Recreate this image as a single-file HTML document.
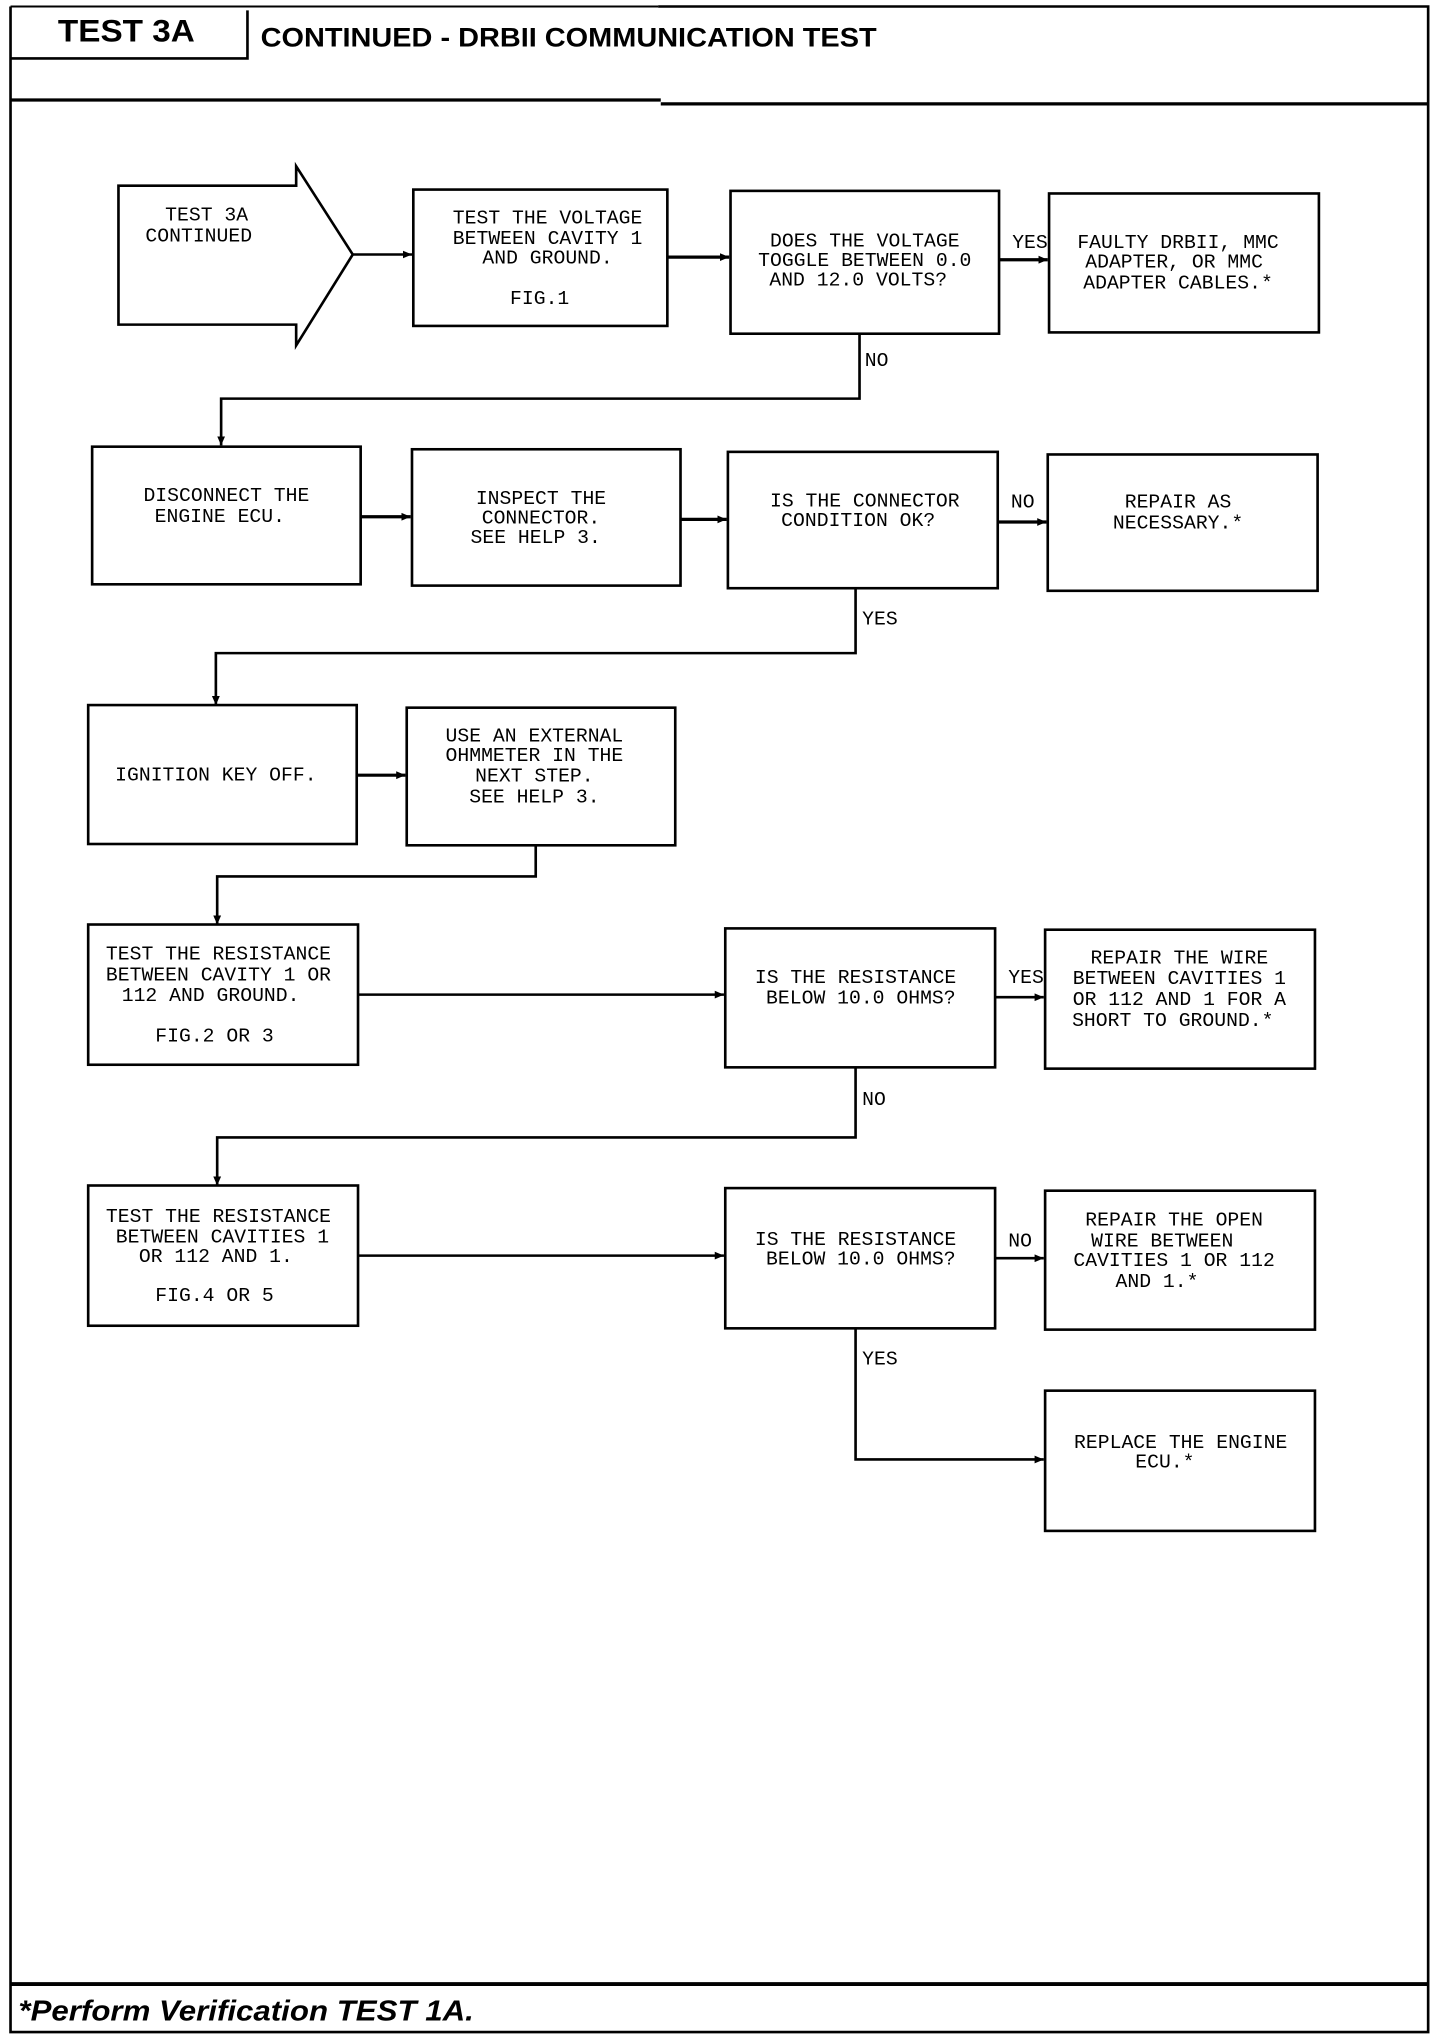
<!DOCTYPE html>
<html><head><meta charset="utf-8"><style>
html,body{margin:0;padding:0;background:#fff;}
svg{display:block;}
.t{font-family:"Liberation Mono",monospace;font-size:15px;fill:#000;text-anchor:middle;}
.l{font-family:"Liberation Mono",monospace;font-size:15px;fill:#000;}
</style></head><body>
<svg width="1440" height="2036" viewBox="0 0 1094 1568" preserveAspectRatio="none" xmlns="http://www.w3.org/2000/svg">
<defs><marker id="a" markerWidth="8" markerHeight="8" refX="7" refY="4" orient="auto" markerUnits="userSpaceOnUse"><path d="M0,1 L7,4 L0,7 Z" fill="#000"/></marker></defs>
<g fill="none" stroke="#000" stroke-width="2">
<path d="M8,5 V1565 H1085 V5 H500"/>
<path d="M8,5 H500" stroke-width="1.5"/>
<path d="M8,45 H188 V8"/>
<path d="M8,77 H502" stroke-width="2.5"/>
<path d="M502,80 H1085" stroke-width="2.5"/>
<path d="M8,1528 H1085" stroke-width="3"/>
<path d="M225,143 H90 V250 H225 V266 L268,196 L225,128 Z"/>
<rect x="314" y="146" width="193" height="105"/>
<rect x="555" y="147" width="204" height="110"/>
<rect x="797" y="149" width="205" height="107"/>
<path d="M268,196 H313" marker-end="url(#a)"/>
<path d="M507,198 H554" marker-end="url(#a)" stroke-width="2.5"/>
<path d="M759,200 H796" marker-end="url(#a)" stroke-width="2.5"/>
<path d="M653,257 V307 H168 V343" marker-end="url(#a)"/>
<rect x="70" y="344" width="204" height="106"/>
<rect x="313" y="346" width="204" height="105"/>
<rect x="553" y="348" width="205" height="105"/>
<rect x="796" y="350" width="205" height="105"/>
<path d="M274,398 H312" marker-end="url(#a)" stroke-width="2.5"/>
<path d="M517,400 H552" marker-end="url(#a)" stroke-width="2.5"/>
<path d="M758,402 H795" marker-end="url(#a)" stroke-width="2.5"/>
<path d="M650,453 V503 H164 V543" marker-end="url(#a)"/>
<rect x="67" y="543" width="204" height="107"/>
<rect x="309" y="545" width="204" height="106"/>
<path d="M271,597 H308" marker-end="url(#a)" stroke-width="2.5"/>
<path d="M407,651 V675 H165 V712" marker-end="url(#a)"/>
<rect x="67" y="712" width="205" height="108"/>
<rect x="551" y="715" width="205" height="107"/>
<rect x="794" y="716" width="205" height="107"/>
<path d="M272,766 H550" marker-end="url(#a)"/>
<path d="M756,768 H793" marker-end="url(#a)"/>
<path d="M650,822 V876 H165 V913" marker-end="url(#a)"/>
<rect x="67" y="913" width="205" height="108"/>
<rect x="551" y="915" width="205" height="108"/>
<rect x="794" y="917" width="205" height="107"/>
<rect x="794" y="1071" width="205" height="108"/>
<path d="M272,967 H550" marker-end="url(#a)"/>
<path d="M756,969 H793" marker-end="url(#a)"/>
<path d="M650,1023 V1124 H793" marker-end="url(#a)"/>
</g>
<text x="44" y="32" font-family="Liberation Sans, sans-serif" font-weight="bold" font-size="24" textLength="104" lengthAdjust="spacingAndGlyphs">TEST 3A</text>
<text x="198" y="36" font-family="Liberation Sans, sans-serif" font-weight="bold" font-size="21" textLength="468" lengthAdjust="spacingAndGlyphs">CONTINUED -  DRBII COMMUNICATION TEST</text>
<text x="14" y="1556" font-family="Liberation Sans, sans-serif" font-weight="bold" font-style="italic" font-size="22" textLength="346" lengthAdjust="spacingAndGlyphs">*Perform Verification TEST 1A.</text>
<text class="t" x="157" y="170">TEST 3A</text>
<text class="t" x="151" y="186">CONTINUED</text>
<text class="t" x="416" y="172">TEST THE VOLTAGE</text>
<text class="t" x="416" y="188">BETWEEN CAVITY 1</text>
<text class="t" x="416" y="203">AND GROUND.</text>
<text class="t" x="410" y="234">FIG.1</text>
<text class="t" x="657" y="190">DOES THE VOLTAGE</text>
<text class="t" x="657" y="205">TOGGLE BETWEEN 0.0</text>
<text class="t" x="652" y="220">AND 12.0 VOLTS?</text>
<text class="t" x="895" y="191">FAULTY DRBII, MMC</text>
<text class="t" x="892" y="206">ADAPTER, OR MMC</text>
<text class="t" x="895" y="222">ADAPTER CABLES.*</text>
<text class="l" x="769" y="191">YES</text>
<text class="l" x="657" y="282">NO</text>
<text class="t" x="172" y="386">DISCONNECT THE</text>
<text class="t" x="167" y="402">ENGINE ECU.</text>
<text class="t" x="411" y="388">INSPECT THE</text>
<text class="t" x="411" y="403">CONNECTOR.</text>
<text class="t" x="407" y="418">SEE HELP 3.</text>
<text class="t" x="657" y="390">IS THE CONNECTOR</text>
<text class="t" x="652" y="405">CONDITION OK?</text>
<text class="t" x="895" y="391">REPAIR AS</text>
<text class="t" x="895" y="407">NECESSARY.*</text>
<text class="l" x="768" y="391">NO</text>
<text class="l" x="655" y="481">YES</text>
<text class="t" x="164" y="601">IGNITION KEY OFF.</text>
<text class="t" x="406" y="571">USE AN EXTERNAL</text>
<text class="t" x="406" y="586">OHMMETER IN THE</text>
<text class="t" x="406" y="602">NEXT STEP.</text>
<text class="t" x="406" y="618">SEE HELP 3.</text>
<text class="t" x="166" y="739">TEST THE RESISTANCE</text>
<text class="t" x="166" y="755">BETWEEN CAVITY 1 OR</text>
<text class="t" x="160" y="771">112 AND GROUND.</text>
<text class="t" x="163" y="802">FIG.2 OR 3</text>
<text class="t" x="650" y="757">IS THE RESISTANCE</text>
<text class="t" x="654" y="773">BELOW 10.0 OHMS?</text>
<text class="t" x="896" y="742">REPAIR THE WIRE</text>
<text class="t" x="896" y="758">BETWEEN CAVITIES 1</text>
<text class="t" x="896" y="774">OR 112 AND 1 FOR A</text>
<text class="t" x="891" y="790">SHORT TO GROUND.*</text>
<text class="l" x="766" y="757">YES</text>
<text class="l" x="655" y="851">NO</text>
<text class="t" x="166" y="941">TEST THE RESISTANCE</text>
<text class="t" x="169" y="957">BETWEEN CAVITIES 1</text>
<text class="t" x="164" y="972">OR 112 AND 1.</text>
<text class="t" x="163" y="1002">FIG.4 OR 5</text>
<text class="t" x="650" y="959">IS THE RESISTANCE</text>
<text class="t" x="654" y="974">BELOW 10.0 OHMS?</text>
<text class="t" x="892" y="944">REPAIR THE OPEN</text>
<text class="t" x="883" y="960">WIRE BETWEEN</text>
<text class="t" x="892" y="975">CAVITIES 1 OR 112</text>
<text class="t" x="879" y="991">AND 1.*</text>
<text class="l" x="766" y="960">NO</text>
<text class="l" x="655" y="1051">YES</text>
<text class="t" x="897" y="1115">REPLACE THE ENGINE</text>
<text class="t" x="885" y="1130">ECU.*</text>
</svg>
</body></html>
